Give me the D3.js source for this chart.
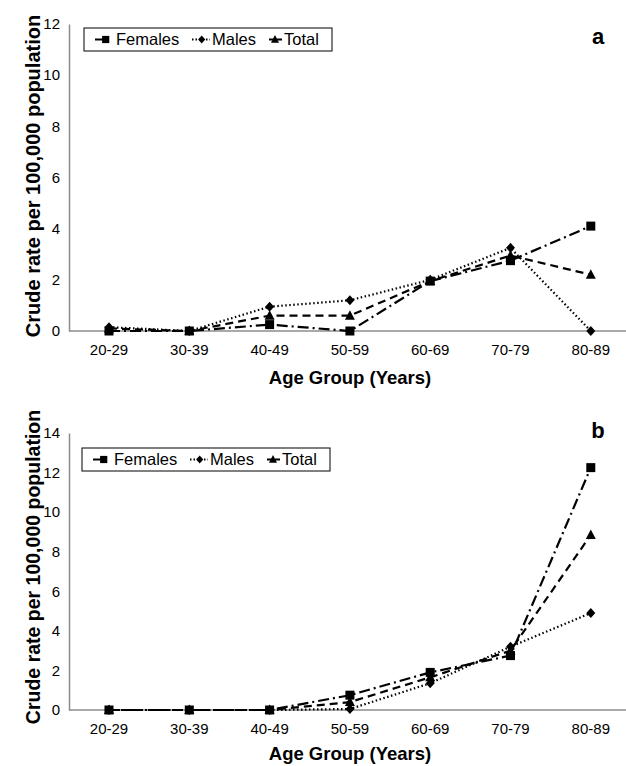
<!DOCTYPE html>
<html>
<head>
<meta charset="utf-8">
<script src="https://cdn.jsdelivr.net/npm/d3@7"></script>
<style>
	body { margin: 0; background: #fff; }
	svg { display: block; font-family: "Liberation Sans", Arial, sans-serif; }
</style>
</head>
<body>
<div id="svg-container"></div>
<script>
	// data
	var ageGroups = ['20-29', '30-39', '40-49', '50-59', '60-69', '70-79', '80-89'];

	var femalesA = [0, 0, 0.25, 0, 1.95, 2.75, 4.1];
	var malesA   = [0.15, 0, 0.95, 1.2, 2.0, 3.25, 0];
	var totalA   = [0.1, 0, 0.6, 0.6, 1.95, 2.95, 2.2];

	var femalesB = [0, 0, 0, 0.75, 1.9, 2.75, 12.25];
	var malesB   = [0, 0, 0, 0.05, 1.35, 3.2, 4.9];
	var totalB   = [0, 0, 0, 0.4, 1.65, 3.0, 8.85];

	var yTicksA = [0, 2, 4, 6, 8, 10, 12];
	var yTicksB = [0, 2, 4, 6, 8, 10, 12, 14];

	var seriesNames = ['Females', 'Males', 'Total'];

	var pageWidth = 626;
	var pageHeight = 766;
	var fontFamily = '"Liberation Sans", Arial, sans-serif';

	var svg = d3.select('#svg-container')
		.append('svg')
		.attr('width', pageWidth)
		.attr('height', pageHeight);

	// line style + marker per series
	var styles = {
		Females: { dash: '11,4,2,4', marker: 'square' },
		Males:   { dash: '1.5,2.5', marker: 'diamond' },
		Total:   { dash: '8,5', marker: 'triangle' }
	};

	// legend samples look different from the plotted lines
	var legendItems = [
		{ lx: 21.7, x1: 11, x2: 24, tx: 32, dash: 'none' },
		{ lx: 117.7, x1: 108, x2: 126, tx: 128, dash: '1.5,2' },
		{ lx: 191, x1: 185, x2: 198, tx: 200, dash: '6,2' }
	];

	function drawMarker(g, type, x, y, s) {
		s = s || 1;
		if (type === 'square') {
			g.append('rect')
				.attr('x', x - 4.5 * s).attr('y', y - 4.5 * s)
				.attr('width', 9 * s).attr('height', 9 * s)
				.attr('fill', '#000');
		} else if (type === 'diamond') {
			g.append('path')
				.attr('d', `M${x},${y - 5 * s}L${x + 4.5 * s},${y}L${x},${y + 5 * s}L${x - 4.5 * s},${y}Z`)
				.attr('fill', '#000');
		} else {
			g.append('path')
				.attr('d', `M${x},${y - 5.5 * s}L${x + 5 * s},${y + 4 * s}L${x - 5 * s},${y + 4 * s}Z`)
				.attr('fill', '#000');
		}
	}

	function drawPanel(opts) {
		var g = svg.append('g');

		var xScale = d3.scalePoint()
			.domain(ageGroups)
			.range([opts.x0 + 40, opts.x0 + 40 + 80.3 * 6]);

		var yScale = d3.scaleLinear()
			.domain([0, opts.yMax])
			.range([opts.yBottom, opts.yTop]);

		// axes
		var yAxis = g.append('g')
			.attr('transform', `translate(${opts.x0}, 0)`)
			.call(d3.axisLeft(yScale).tickValues(opts.yTicks).tickSize(0).tickPadding(9));
		yAxis.select('.domain').attr('stroke', '#8c8c8c').attr('stroke-width', 1.5);
		yAxis.selectAll('text').attr('font-size', 15).attr('fill', '#000')
			.attr('font-family', fontFamily);

		g.append('line')
			.attr('x1', opts.x0).attr('x2', 640)
			.attr('y1', yScale(0)).attr('y2', yScale(0))
			.attr('stroke', '#8c8c8c').attr('stroke-width', 1.5);

		ageGroups.forEach(function(d){
			g.append('text')
				.attr('x', xScale(d))
				.attr('y', yScale(0) + 24)
				.attr('text-anchor', 'middle')
				.attr('font-size', 15)
				.text(d);
		});

		// series lines
		var line = d3.line()
			.x(function(d, i) { return xScale(ageGroups[i]) })
			.y(function(d) { return yScale(d) });

		opts.series.forEach(function(values, i){
			var st = styles[seriesNames[i]];
			g.append('path')
				.datum(values)
				.attr('d', line)
				.attr('fill', 'none')
				.attr('stroke', '#000')
				.attr('stroke-width', 2.2)
				.attr('stroke-dasharray', st.dash);
		});
		opts.series.forEach(function(values, i){
			var st = styles[seriesNames[i]];
			values.forEach(function(v, j){
				drawMarker(g, st.marker, xScale(ageGroups[j]), yScale(v));
			});
		});

		// axis titles
		g.append('text')
			.attr('transform', `translate(40, ${opts.yTitleY}) rotate(-90)`)
			.attr('text-anchor', 'middle')
			.attr('font-size', opts.yTitleSize)
			.attr('font-weight', 'bold')
			.text('Crude rate per 100,000 population');

		g.append('text')
			.attr('x', 350)
			.attr('y', opts.xTitleY)
			.attr('text-anchor', 'middle')
			.attr('font-size', 18.5)
			.attr('font-weight', 'bold')
			.text('Age Group (Years)');

		g.append('text')
			.attr('x', 598)
			.attr('y', opts.labelY)
			.attr('text-anchor', 'middle')
			.attr('font-size', 22)
			.attr('font-weight', 'bold')
			.text(opts.label);

		// legend
		var lg = g.append('g').attr('transform', `translate(${opts.legX}, ${opts.legY})`);
		lg.append('rect')
			.attr('width', 248).attr('height', 23)
			.attr('fill', '#fff')
			.attr('stroke', '#000').attr('stroke-width', 1);

		seriesNames.forEach(function(name, i){
			var it = legendItems[i];
			lg.append('line')
				.attr('x1', it.x1).attr('x2', it.x2)
				.attr('y1', 11.5).attr('y2', 11.5)
				.attr('stroke', '#000').attr('stroke-width', 2)
				.attr('stroke-dasharray', it.dash);
			drawMarker(lg, styles[name].marker, it.lx, 11.5, 0.8);
			lg.append('text')
				.attr('x', it.tx)
				.attr('y', 17)
				.attr('font-size', 16.5)
				.text(name);
		});
	}

	drawPanel({
		x0: 69, yTop: 24, yBottom: 331, yMax: 12, yTicks: yTicksA,
		series: [femalesA, malesA, totalA],
		yTitleY: 176, yTitleSize: 20, xTitleY: 384,
		label: 'a', labelY: 44, legX: 84, legY: 28
	});

	drawPanel({
		x0: 69, yTop: 433, yBottom: 710, yMax: 14, yTicks: yTicksB,
		series: [femalesB, malesB, totalB],
		yTitleY: 567, yTitleSize: 19.5, xTitleY: 760,
		label: 'b', labelY: 438, legX: 82, legY: 448
	});
</script>
</body>
</html>
